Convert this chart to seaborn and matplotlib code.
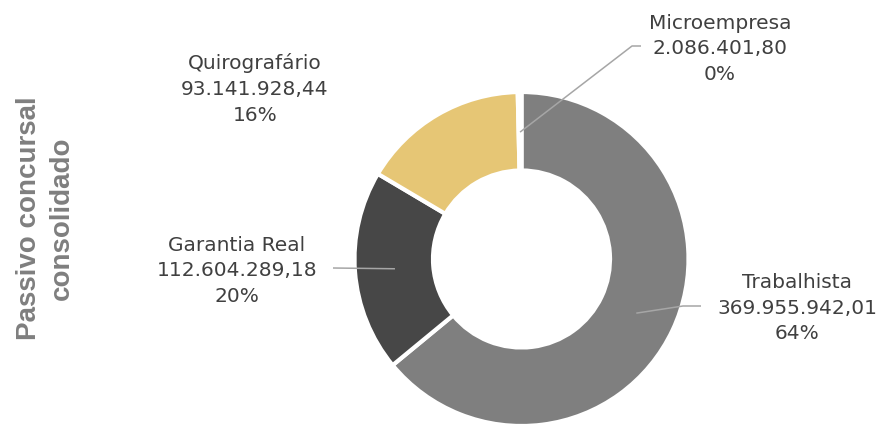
import numpy as np
import matplotlib
matplotlib.use("Agg")
import matplotlib.pyplot as plt
import seaborn as sns

# ---- data ----
categories = ["Trabalhista", "Garantia Real", "Quirografário", "Microempresa"]
values = [369955942.01, 112604289.18, 93141928.44, 2086401.80]
pct_labels = ["64%", "20%", "16%", "0%"]
colors = ["#7f7f7f", "#474747", "#e6c675", "#a5a5a5"]
axis_title = "Passivo concursal\nconsolidado"

sns.set_theme(style="white")
plt.rcParams["font.family"] = ["DejaVu Sans"]

W, H, DPI = 886, 427, 100
fig = plt.figure(figsize=(W / DPI, H / DPI), dpi=DPI)
ax = fig.add_axes([0, 0, 1, 1])

CX, CY, R = 521.5, 260, 167  # pixel centre and radius of donut

def px2d(px, py):
    return (px - CX) / R, (CY - py) / R

wedges, _ = ax.pie(values, colors=colors, startangle=90, counterclock=False,
                   radius=1.0,
                   wedgeprops=dict(width=0.47, edgecolor="white", linewidth=3))

ax.set_xlim(-CX / R, (W - CX) / R)
ax.set_ylim(-(H - CY) / R, CY / R)
ax.set_aspect("equal", adjustable="box")
ax.axis("off")

def fmt_br(v):
    s = f"{v:,.2f}"
    return s.replace(",", "X").replace(".", ",").replace("X", ".")

# label placement (pixel centres) and leader-line paths (pixel points after wedge anchor)
label_pos = {
    "Trabalhista": (797, 308),
    "Garantia Real": (237, 271),
    "Quirografário": (255, 89),
    "Microempresa": (720, 49),
}
leaders = {
    "Trabalhista": [(683, 307), (701, 307)],
    "Garantia Real": [(333, 269)],
    "Microempresa": [(632, 47), (641, 47)],
}

for w, cat, v, p in zip(wedges, categories, values, pct_labels):
    lx, ly = label_pos[cat]
    fig.text(lx / W, 1 - ly / H, f"{cat}\n{fmt_br(v)}\n{p}",
             ha="center", va="center", fontsize=14.5, color="#404040",
             linespacing=1.45)
    if cat in leaders:
        ang = np.deg2rad((w.theta1 + w.theta2) / 2)
        r0 = 0.76
        xs = [r0 * np.cos(ang)]
        ys = [r0 * np.sin(ang)]
        for (px, py) in leaders[cat]:
            dx, dy = px2d(px, py)
            xs.append(dx)
            ys.append(dy)
        ax.plot(xs, ys, color="#a6a6a6", lw=1.1, solid_capstyle="butt", zorder=5)

fig.text(45.5 / W, 1 - 218 / H, axis_title, rotation=90, ha="center", va="center",
         fontsize=20, fontweight="bold", color="#7f7f7f",
         family=["Liberation Sans", "DejaVu Sans"], linespacing=1.3)

fig.savefig("out.png", dpi=DPI)
